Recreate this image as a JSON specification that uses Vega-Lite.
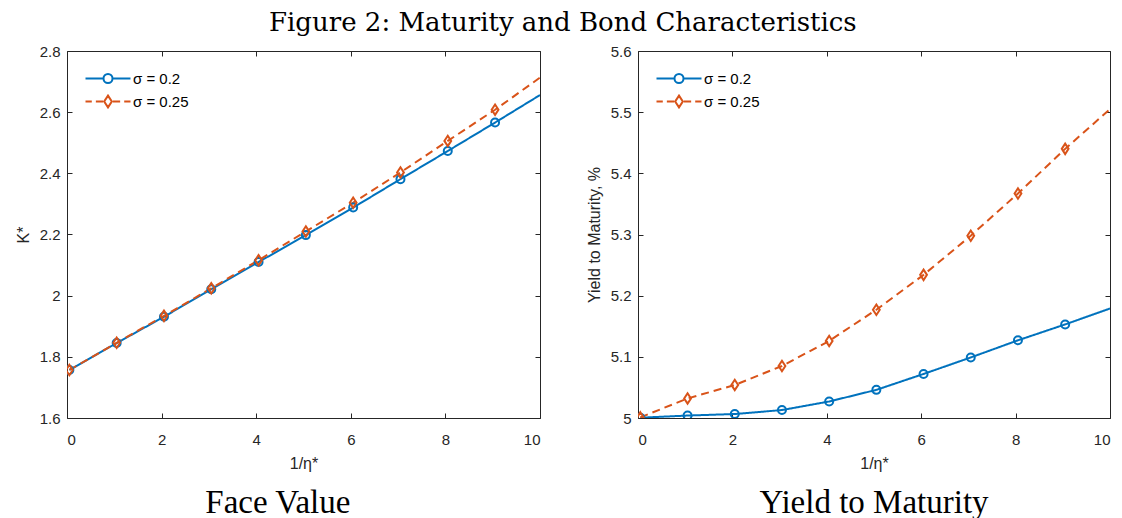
{
  "$schema": "https://vega.github.io/schema/vega-lite/v6.json",
  "padding": {"left": 15, "top": 10, "right": 5, "bottom": 0},
  "title": {"text": "Figure 2: Maturity and Bond Characteristics", "font": "DejaVu Serif", "fontSize": 26, "fontWeight": "normal", "color": "black", "anchor": "middle", "offset": 8},
  "datasets": {
    "face": [
      {"x": 0.05, "y": 1.757, "series": "σ = 0.2", "m": true},
      {"x": 1.05, "y": 1.845, "series": "σ = 0.2", "m": true},
      {"x": 2.05, "y": 1.931, "series": "σ = 0.2", "m": true},
      {"x": 3.05, "y": 2.021, "series": "σ = 0.2", "m": true},
      {"x": 4.05, "y": 2.110, "series": "σ = 0.2", "m": true},
      {"x": 5.05, "y": 2.198, "series": "σ = 0.2", "m": true},
      {"x": 6.05, "y": 2.288, "series": "σ = 0.2", "m": true},
      {"x": 7.05, "y": 2.381, "series": "σ = 0.2", "m": true},
      {"x": 8.05, "y": 2.473, "series": "σ = 0.2", "m": true},
      {"x": 9.05, "y": 2.566, "series": "σ = 0.2", "m": true},
      {"x": 10, "y": 2.656, "series": "σ = 0.2", "m": false},
      {"x": 0.05, "y": 1.757, "series": "σ = 0.25", "m": true},
      {"x": 1.05, "y": 1.846, "series": "σ = 0.25", "m": true},
      {"x": 2.05, "y": 1.934, "series": "σ = 0.25", "m": true},
      {"x": 3.05, "y": 2.024, "series": "σ = 0.25", "m": true},
      {"x": 4.05, "y": 2.116, "series": "σ = 0.25", "m": true},
      {"x": 5.05, "y": 2.210, "series": "σ = 0.25", "m": true},
      {"x": 6.05, "y": 2.304, "series": "σ = 0.25", "m": true},
      {"x": 7.05, "y": 2.403, "series": "σ = 0.25", "m": true},
      {"x": 8.05, "y": 2.506, "series": "σ = 0.25", "m": true},
      {"x": 9.05, "y": 2.608, "series": "σ = 0.25", "m": true},
      {"x": 10, "y": 2.713, "series": "σ = 0.25", "m": false}
    ],
    "ytm": [
      {"x": 0.05, "y": 5.0005, "series": "σ = 0.2", "m": true},
      {"x": 1.05, "y": 5.004, "series": "σ = 0.2", "m": true},
      {"x": 2.05, "y": 5.0065, "series": "σ = 0.2", "m": true},
      {"x": 3.05, "y": 5.013, "series": "σ = 0.2", "m": true},
      {"x": 4.05, "y": 5.027, "series": "σ = 0.2", "m": true},
      {"x": 5.05, "y": 5.046, "series": "σ = 0.2", "m": true},
      {"x": 6.05, "y": 5.072, "series": "σ = 0.2", "m": true},
      {"x": 7.05, "y": 5.099, "series": "σ = 0.2", "m": true},
      {"x": 8.05, "y": 5.127, "series": "σ = 0.2", "m": true},
      {"x": 9.05, "y": 5.153, "series": "σ = 0.2", "m": true},
      {"x": 10, "y": 5.179, "series": "σ = 0.2", "m": false},
      {"x": 0.05, "y": 5.001, "series": "σ = 0.25", "m": true},
      {"x": 1.05, "y": 5.032, "series": "σ = 0.25", "m": true},
      {"x": 2.05, "y": 5.054, "series": "σ = 0.25", "m": true},
      {"x": 3.05, "y": 5.085, "series": "σ = 0.25", "m": true},
      {"x": 4.05, "y": 5.126, "series": "σ = 0.25", "m": true},
      {"x": 5.05, "y": 5.177, "series": "σ = 0.25", "m": true},
      {"x": 6.05, "y": 5.234, "series": "σ = 0.25", "m": true},
      {"x": 7.05, "y": 5.298, "series": "σ = 0.25", "m": true},
      {"x": 8.05, "y": 5.367, "series": "σ = 0.25", "m": true},
      {"x": 9.05, "y": 5.440, "series": "σ = 0.25", "m": true},
      {"x": 10, "y": 5.505, "series": "σ = 0.25", "m": false}
    ]
  },
  "spacing": 45,
  "hconcat": [
    {
      "width": 473,
      "height": 367,
      "data": {"name": "face"},
      "title": {"text": "Face Value", "orient": "bottom", "frame": "bounds", "font": "Liberation Serif", "fontSize": 33, "fontWeight": "normal", "color": "black", "offset": 16},
      "layer": [
        {
          "mark": {"type": "line", "strokeWidth": 2, "clip": true},
          "encoding": {
            "x": {"field": "x", "type": "quantitative", "scale": {"domain": [0, 10], "nice": false, "zero": false}, "axis": {"orient": "bottom", "values": [0, 2, 4, 6, 8, 10], "title": "1/η*", "format": "~f"}},
            "y": {"field": "y", "type": "quantitative", "scale": {"domain": [1.6, 2.8], "nice": false, "zero": false}, "axis": {"orient": "left", "values": [1.6, 1.8, 2, 2.2, 2.4, 2.6, 2.8], "title": "K*", "format": "~f"}},
            "color": {"field": "series", "type": "nominal", "scale": {"domain": ["σ = 0.25", "σ = 0.2"], "range": ["#D95319", "#0072BD"]}, "legend": null},
            "strokeDash": {"field": "series", "type": "nominal", "scale": {"domain": ["σ = 0.25", "σ = 0.2"], "range": [[8, 5], [1, 0]]}, "legend": null}
          }
        },
        {
          "transform": [{"filter": "datum.m"}],
          "mark": {"type": "point", "filled": false, "strokeWidth": 2, "size": 64, "opacity": 1, "clip": true},
          "encoding": {
            "x": {"field": "x", "type": "quantitative", "axis": {"orient": "top", "values": [0, 2, 4, 6, 8, 10], "labels": false, "title": null}},
            "y": {"field": "y", "type": "quantitative", "axis": {"orient": "right", "values": [1.6, 1.8, 2, 2.2, 2.4, 2.6, 2.8], "labels": false, "title": null}},
            "shape": {"field": "series", "type": "nominal", "scale": {"domain": ["σ = 0.25", "σ = 0.2"], "range": ["M0,-1.3L0.85,0L0,1.3L-0.85,0Z", "circle"]}, "legend": null},
            "stroke": {"field": "series", "type": "nominal", "scale": {"domain": ["σ = 0.25", "σ = 0.2"], "range": ["#D95319", "#0072BD"]}, "legend": null}
          }
        },
        {
          "transform": [{"filter": "datum.m"}],
          "mark": {"type": "point", "filled": false, "strokeWidth": 2, "size": 64, "opacity": 0, "clip": true},
          "encoding": {
            "x": {"field": "x", "type": "quantitative", "axis": null},
            "y": {"field": "y", "type": "quantitative", "axis": null},
            "shape": {"field": "series", "type": "nominal", "scale": {"domain": ["σ = 0.2", "σ = 0.25"], "range": ["M-5,0H-1M1,0H5M-1,0A1,1,0,1,1,1,0A1,1,0,1,1,-1,0", "M-5,0H-3.6M-2.7,0H-1.1M1.1,0H2.7M3.6,0H5M0,-1.3L0.85,0L0,1.3L-0.85,0Z"]}},
            "stroke": {"field": "series", "type": "nominal", "scale": {"domain": ["σ = 0.2", "σ = 0.25"], "range": ["#0072BD", "#D95319"]}}
          }
        }
      ],
      "resolve": {"axis": {"x": "independent", "y": "independent"}, "scale": {"shape": "independent", "stroke": "independent"}}
    },
    {
      "width": 472,
      "height": 367,
      "data": {"name": "ytm"},
      "title": {"text": "Yield to Maturity", "orient": "bottom", "frame": "group", "font": "Liberation Serif", "fontSize": 33, "fontWeight": "normal", "color": "black", "offset": 16},
      "layer": [
        {
          "mark": {"type": "line", "strokeWidth": 2, "clip": true},
          "encoding": {
            "x": {"field": "x", "type": "quantitative", "scale": {"domain": [0, 10], "nice": false, "zero": false}, "axis": {"orient": "bottom", "values": [0, 2, 4, 6, 8, 10], "title": "1/η*", "format": "~f"}},
            "y": {"field": "y", "type": "quantitative", "scale": {"domain": [5, 5.6], "nice": false, "zero": false}, "axis": {"orient": "left", "values": [5, 5.1, 5.2, 5.3, 5.4, 5.5, 5.6], "title": "Yield to Maturity, %", "format": "~f"}},
            "color": {"field": "series", "type": "nominal", "scale": {"domain": ["σ = 0.25", "σ = 0.2"], "range": ["#D95319", "#0072BD"]}, "legend": null},
            "strokeDash": {"field": "series", "type": "nominal", "scale": {"domain": ["σ = 0.25", "σ = 0.2"], "range": [[8, 5], [1, 0]]}, "legend": null}
          }
        },
        {
          "transform": [{"filter": "datum.m"}],
          "mark": {"type": "point", "filled": false, "strokeWidth": 2, "size": 64, "opacity": 1, "clip": true},
          "encoding": {
            "x": {"field": "x", "type": "quantitative", "axis": {"orient": "top", "values": [0, 2, 4, 6, 8, 10], "labels": false, "title": null}},
            "y": {"field": "y", "type": "quantitative", "axis": {"orient": "right", "values": [5, 5.1, 5.2, 5.3, 5.4, 5.5, 5.6], "labels": false, "title": null}},
            "shape": {"field": "series", "type": "nominal", "scale": {"domain": ["σ = 0.25", "σ = 0.2"], "range": ["M0,-1.3L0.85,0L0,1.3L-0.85,0Z", "circle"]}, "legend": null},
            "stroke": {"field": "series", "type": "nominal", "scale": {"domain": ["σ = 0.25", "σ = 0.2"], "range": ["#D95319", "#0072BD"]}, "legend": null}
          }
        },
        {
          "transform": [{"filter": "datum.m"}],
          "mark": {"type": "point", "filled": false, "strokeWidth": 2, "size": 64, "opacity": 0, "clip": true},
          "encoding": {
            "x": {"field": "x", "type": "quantitative", "axis": null},
            "y": {"field": "y", "type": "quantitative", "axis": null},
            "shape": {"field": "series", "type": "nominal", "scale": {"domain": ["σ = 0.2", "σ = 0.25"], "range": ["M-5,0H-1M1,0H5M-1,0A1,1,0,1,1,1,0A1,1,0,1,1,-1,0", "M-5,0H-3.6M-2.7,0H-1.1M1.1,0H2.7M3.6,0H5M0,-1.3L0.85,0L0,1.3L-0.85,0Z"]}},
            "stroke": {"field": "series", "type": "nominal", "scale": {"domain": ["σ = 0.2", "σ = 0.25"], "range": ["#0072BD", "#D95319"]}}
          }
        }
      ],
      "resolve": {"axis": {"x": "independent", "y": "independent"}, "scale": {"shape": "independent", "stroke": "independent"}}
    }
  ],
  "resolve": {"scale": {"stroke": "independent", "color": "independent", "shape": "independent", "strokeDash": "independent"}, "legend": {"stroke": "independent", "color": "independent", "shape": "independent", "strokeDash": "independent"}},
  "config": {
    "view": {"stroke": null},
    "font": "Liberation Sans",
    "axis": {
      "domainColor": "#262626", "domainWidth": 1, "tickColor": "#262626", "tickWidth": 1, "tickSize": -5,
      "labelColor": "#262626", "labelFont": "Liberation Sans", "labelFontSize": 15,
      "titleColor": "#262626", "titleFont": "Liberation Sans", "titleFontSize": 16, "titleFontWeight": "normal",
      "grid": false, "labelPadding": 12, "titlePadding": 8
    },
    "axisX": {"labelPadding": 19},
    "legend": {
      "orient": "none", "legendX": 33.5, "legendY": 20, "title": null,
      "labelFont": "Liberation Sans", "labelFontSize": 15, "labelColor": "black",
      "symbolSize": 81, "symbolStrokeWidth": 2, "symbolOpacity": 1, "symbolFillColor": "transparent",
      "labelOffset": 17.5, "rowPadding": 4, "padding": 0
    }
  }
}
